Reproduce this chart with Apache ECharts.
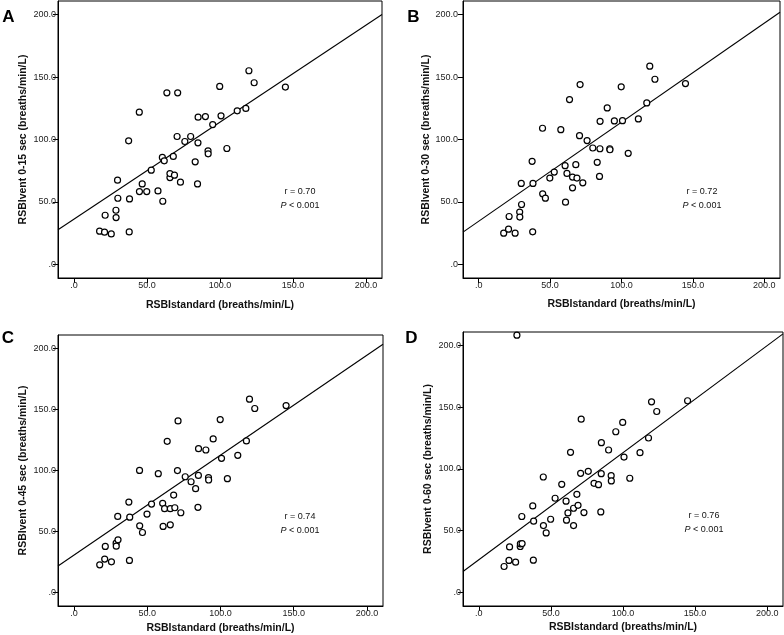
<!DOCTYPE html>
<html>
<head>
<meta charset="utf-8">
<script src="https://cdn.jsdelivr.net/npm/echarts@6/dist/echarts.min.js"></script>
<style>
html,body{margin:0;padding:0;background:#fff;}
#main{width:784px;height:635px;}
</style>
</head>
<body>
<div id="main"></div>
<script>
// ---- Data ----
const xStandard = [17.5, 20.9, 21.3, 25.5, 28.7, 28.8, 29.8, 30.0, 37.4, 38.0, 37.8, 44.7, 44.8, 46.7, 49.8, 52.9, 57.5, 60.8, 60.5, 61.8, 63.6, 65.7, 65.7, 68.0, 68.8, 70.6, 71.0, 72.9, 75.9, 79.9, 83.0, 84.6, 85.0, 84.9, 90.0, 91.8, 91.9, 95.0, 99.8, 100.7, 104.7, 111.8, 117.7, 119.8, 123.4, 144.8];
const yVent15 = [26.5, 25.7, 39.3, 24.3, 43.3, 37.4, 67.4, 52.9, 98.9, 52.4, 25.9, 121.9, 58.3, 64.4, 58.3, 75.4, 58.8, 50.5, 85.6, 82.9, 137.4, 69.5, 72.7, 86.4, 71.4, 102.4, 137.4, 65.8, 98.4, 102.4, 82.1, 64.4, 117.9, 97.3, 118.4, 90.9, 88.5, 112.0, 142.5, 119.0, 92.8, 123.0, 124.9, 155.1, 145.5, 142.0];
const yVent30 = [24.9, 28.1, 38.3, 24.9, 41.8, 37.8, 64.8, 47.9, 82.5, 64.8, 26.0, 109.0, 56.5, 53.0, 69.1, 73.9, 107.9, 49.8, 79.0, 72.8, 132.0, 61.3, 69.9, 79.8, 69.1, 103.1, 144.0, 65.3, 99.1, 93.2, 81.7, 70.4, 114.6, 92.6, 125.3, 92.6, 91.8, 114.9, 142.2, 115.1, 88.9, 116.5, 129.3, 158.8, 148.3, 144.8];
const yVent45 = [22.7, 27.4, 37.8, 25.2, 40.5, 38.0, 62.4, 43.2, 74.1, 61.8, 26.3, 100.1, 54.7, 49.2, 64.3, 72.5, 97.4, 54.2, 73.1, 68.7, 123.9, 55.5, 68.7, 79.9, 69.5, 99.9, 140.6, 65.4, 94.9, 90.8, 85.1, 69.8, 117.9, 96.0, 116.8, 94.1, 92.2, 125.9, 141.7, 110.0, 93.3, 112.4, 124.2, 158.4, 150.8, 153.2];
const yVent60 = [21.0, 25.9, 36.9, 24.5, 37.2, 39.4, 61.5, 39.6, 70.1, 57.7, 26.1, 93.5, 54.2, 48.2, 59.3, 76.3, 87.6, 58.5, 73.9, 64.4, 113.5, 54.2, 68.2, 79.5, 70.6, 96.5, 140.4, 64.7, 98.1, 88.4, 87.3, 65.2, 121.3, 96.2, 115.4, 94.6, 90.3, 130.2, 137.7, 109.7, 92.5, 113.2, 125.1, 154.4, 146.6, 155.3];
const extra60X = [26.4];
const extra60Y = [208.4];

const intercepts = [36.2, 34.5, 30.8, 26.5];
const slopes = [0.777, 0.794, 0.818, 0.867];
const rValues = ['0.70', '0.72', '0.74', '0.76'];
const pValue = '< 0.001';
const panelLetters = ['A', 'B', 'C', 'D'];
const yNames = ['RSBIvent 0-15 sec (breaths/min/L)', 'RSBIvent 0-30 sec (breaths/min/L)', 'RSBIvent 0-45 sec (breaths/min/L)', 'RSBIvent 0-60 sec (breaths/min/L)'];
const xName = 'RSBIstandard (breaths/min/L)';
const tickValues = [0, 50, 100, 150, 200];

// ---- Layout ----
const AX_MIN = -11, AX_MAX = 211;
const FONT = 'Arial, "Liberation Sans", Helvetica, sans-serif';
const grids = [
  {left: 58, top: 1, width: 324, height: 277},
  {left: 463, top: 1, width: 317, height: 277},
  {left: 58, top: 335, width: 325, height: 271},
  {left: 463, top: 332, width: 320, height: 274}
];
const yNameGaps = [29, 31, 29, 29];
const yLabelMargins = [2, 5, 2, 2];
const xNameGaps = [22, 21, 17, 16];
const letterPos = [[8.5, 17.5], [413.5, 17.8], [8, 338], [411.5, 338.3]];
const statPos = [[300, 192], [702, 192], [300, 517], [704, 516]];

const yData = [yVent15, yVent30, yVent45, yVent60];

function fmt(v) { return v === 0 ? '.0' : v.toFixed(1); }

const option = {
  animation: false,
  backgroundColor: '#fff',
  grid: grids.map(g => Object.assign({show: true, borderColor: '#000', borderWidth: 1, backgroundColor: '#fff'}, g)),
  xAxis: grids.map((g, i) => ({
    type: 'value', gridIndex: i, min: AX_MIN, max: AX_MAX,
    name: xName, nameLocation: 'middle', nameGap: xNameGaps[i],
    nameTextStyle: {fontFamily: FONT, fontWeight: 'bold', fontSize: 10.5, color: '#111'},
    axisLine: {show: true, onZero: false, lineStyle: {color: '#000', width: 1}},
    axisTick: {show: true, inside: false, length: 5, customValues: tickValues, lineStyle: {color: '#000'}},
    axisLabel: {customValues: tickValues, formatter: fmt, fontFamily: FONT, fontSize: 9, color: '#222', margin: 3},
    splitLine: {show: false}
  })),
  yAxis: grids.map((g, i) => ({
    type: 'value', gridIndex: i, min: AX_MIN, max: AX_MAX,
    name: yNames[i], nameLocation: 'middle', nameGap: yNameGaps[i],
    nameTextStyle: {fontFamily: FONT, fontWeight: 'bold', fontSize: 10.5, color: '#111'},
    axisLine: {show: true, onZero: false, lineStyle: {color: '#000', width: 1}},
    axisTick: {show: true, inside: false, length: 5, customValues: tickValues, lineStyle: {color: '#000'}},
    axisLabel: {customValues: tickValues, formatter: fmt, fontFamily: FONT, fontSize: 9, color: '#222', margin: yLabelMargins[i]},
    splitLine: {show: false}
  })),
  series: [],
  graphic: []
};

yData.forEach((ys, i) => {
  const pts = xStandard.map((x, k) => [x, ys[k]]);
  if (i === 3) extra60X.forEach((x, k) => pts.push([x, extra60Y[k]]));
  option.series.push({
    type: 'line', xAxisIndex: i, yAxisIndex: i, silent: true, symbol: 'none',
    lineStyle: {color: '#000', width: 1.1},
    data: [[AX_MIN, intercepts[i] + slopes[i] * AX_MIN], [AX_MAX, intercepts[i] + slopes[i] * AX_MAX]],
    z: 2
  });
  option.series.push({
    type: 'scatter', xAxisIndex: i, yAxisIndex: i, symbol: 'circle', symbolSize: 6,
    itemStyle: {color: '#fff', borderColor: '#000', borderWidth: 1.2, opacity: 1},
    data: pts, z: 3
  });
  option.graphic.push({
    type: 'text', x: letterPos[i][0], y: letterPos[i][1],
    style: {text: panelLetters[i], font: 'bold 17px ' + FONT, fill: '#000', align: 'center', verticalAlign: 'middle'}
  });
  option.graphic.push({
    type: 'text', x: statPos[i][0], y: statPos[i][1],
    style: {text: 'r = ' + rValues[i], font: '9px ' + FONT, fill: '#111', align: 'center', verticalAlign: 'middle'}
  });
  option.graphic.push({
    type: 'text', x: statPos[i][0], y: statPos[i][1] + 13.5,
    style: {text: '{i|P} ' + pValue, font: '9px ' + FONT, fill: '#111', align: 'center', verticalAlign: 'middle',
      rich: {i: {fontStyle: 'italic', fontFamily: FONT, fontSize: 9, fill: '#111'}}}
  });
});

const chart = echarts.init(document.getElementById('main'), null, {renderer: 'canvas'});
chart.setOption(option);
</script>
</body>
</html>
